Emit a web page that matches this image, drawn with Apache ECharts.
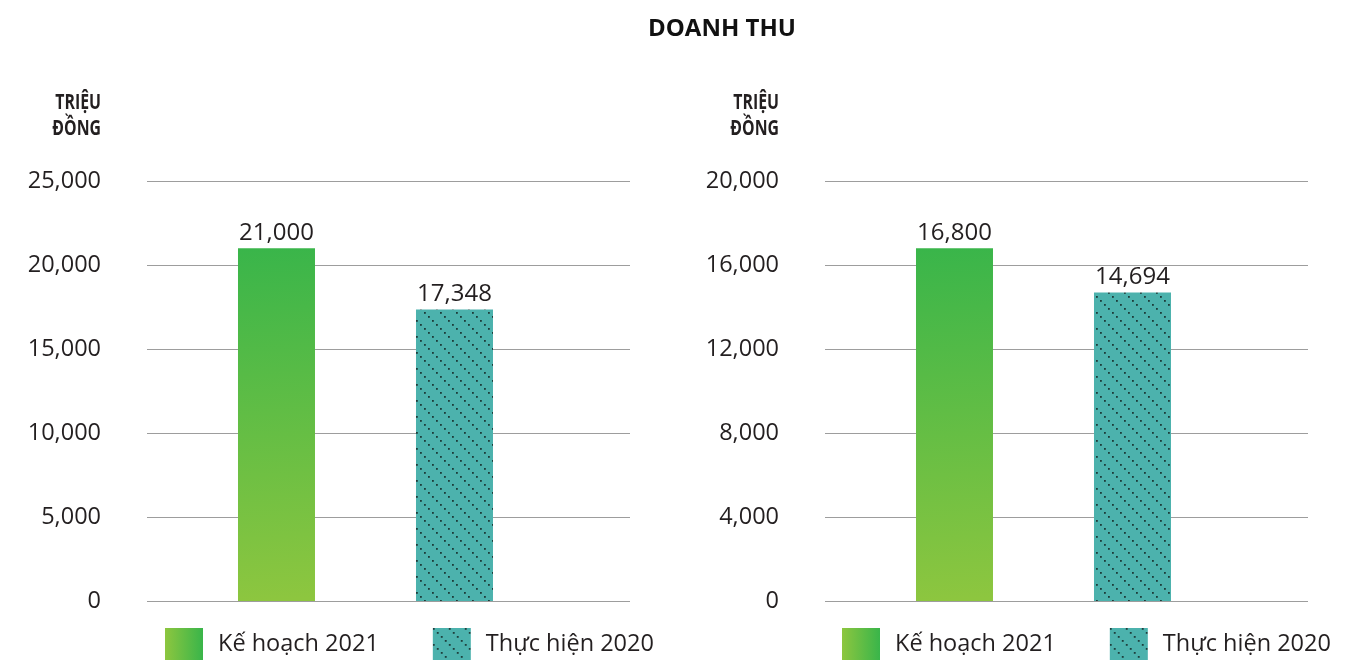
<!DOCTYPE html>
<html>
<head>
<meta charset="utf-8">
<script src="https://cdn.jsdelivr.net/npm/echarts@6/dist/echarts.min.js"></script>
<style>
html,body{margin:0;padding:0;background:#fff;}
#main{width:1368px;height:660px;}
</style>
</head>
<body>
<div id="main"></div>
<script>
// data
var seriesNames = ['Kế hoạch 2021', 'Thực hiện 2020'];
var leftValues = [21000, 17348];
var rightValues = [16800, 14694];
var leftTicks = { max: 25000, interval: 5000 };
var rightTicks = { max: 20000, interval: 4000 };
var axisUnit = 'TRIỆU\nĐỒNG';
var chartTitle = 'DOANH THU';

var textColor = '#231f20';
var font = '"Open Sans", "Noto Sans", sans-serif';

// dotted diagonal pattern for the teal bars
function makePattern() {
    var c = document.createElement('canvas');
    c.width = 16; c.height = 16;
    var ctx = c.getContext('2d');
    ctx.fillStyle = '#4cb2ad';
    ctx.fillRect(0, 0, 16, 16);
    ctx.fillStyle = '#1c3b39';
    for (var i = 0; i < 16; i += 4) {
        ctx.fillRect(i, i, 1.8, 1.8);
    }
    return { image: c, repeat: 'repeat' };
}
var teal = makePattern();

var greenBar = new echarts.graphic.LinearGradient(0, 0, 0.35, 1, [
    { offset: 0, color: '#39b54a' },
    { offset: 1, color: '#8dc63f' }
]);
var greenIcon = new echarts.graphic.LinearGradient(0, 0, 1, 0, [
    { offset: 0, color: '#8dc63f' },
    { offset: 1, color: '#39b54a' }
]);

function yAxis(gridIndex, ticks) {
    return {
        gridIndex: gridIndex,
        type: 'value',
        min: 0,
        max: ticks.max,
        interval: ticks.interval,
        axisLine: { show: false },
        axisTick: { show: false },
        axisLabel: {
            margin: 46,
            fontSize: 23.5,
            fontFamily: font,
            color: textColor,
            padding: [5, 0, 0, 0],
            formatter: function (v) { return v.toLocaleString('en-US'); }
        },
        splitLine: { lineStyle: { color: '#9d9d9d', width: 1 } }
    };
}

function xAxis(gridIndex) {
    return {
        gridIndex: gridIndex,
        type: 'value',
        min: 0.2725,
        max: 2.986,
        show: false,
        splitLine: { show: false }
    };
}

function bar(name, gridIndex, pos, value, color) {
    return {
        name: name,
        type: 'bar',
        xAxisIndex: gridIndex,
        yAxisIndex: gridIndex,
        barWidth: 77,
        barGap: '-100%',
        itemStyle: { color: color },
        label: {
            show: true,
            position: 'top',
            distance: 3,
            fontSize: 24,
            fontFamily: font,
            color: textColor,
            formatter: function (p) { return p.value[1].toLocaleString('en-US'); }
        },
        data: [[pos, value]]
    };
}

function legend(left) {
    return {
        left: left,
        top: 628,
        padding: 0,
        itemWidth: 38,
        itemHeight: 32,
        itemGap: 54,
        icon: 'rect',
        textStyle: { fontSize: 23.5, fontFamily: font, color: textColor, padding: [0, 0, 0, 10] },
        data: [
            { name: seriesNames[0], itemStyle: { color: greenIcon } },
            { name: seriesNames[1], itemStyle: { color: teal } }
        ]
    };
}

// condensed bold unit label above each value axis
function unitLabel(right) {
    return {
        type: 'text',
        x: right,
        y: 90,
        scaleX: 0.72,
        style: {
            text: axisUnit,
            fill: textColor,
            font: 'bold 22px "Open Sans", sans-serif',
            lineHeight: 26,
            align: 'right',
            verticalAlign: 'top'
        }
    };
}

var myChart = echarts.init(document.getElementById('main'));
var option = {
    animation: false,
    title: {
        text: chartTitle,
        left: 643,
        top: 12,
        textStyle: { fontFamily: font, fontWeight: 'bold', fontSize: 24, color: '#111' }
    },
    graphic: [unitLabel(101), unitLabel(779)],
    legend: [legend(165), legend(842)],
    grid: [
        { left: 147, width: 483, top: 181, height: 420 },
        { left: 825, width: 483, top: 181, height: 420 }
    ],
    xAxis: [xAxis(0), xAxis(1)],
    yAxis: [yAxis(0, leftTicks), yAxis(1, rightTicks)],
    series: [
        bar(seriesNames[0], 0, 1, leftValues[0], greenBar),
        bar(seriesNames[1], 0, 2, leftValues[1], teal),
        bar(seriesNames[0], 1, 1, rightValues[0], greenBar),
        bar(seriesNames[1], 1, 2, rightValues[1], teal)
    ]
};
myChart.setOption(option);
</script>
</body>
</html>
